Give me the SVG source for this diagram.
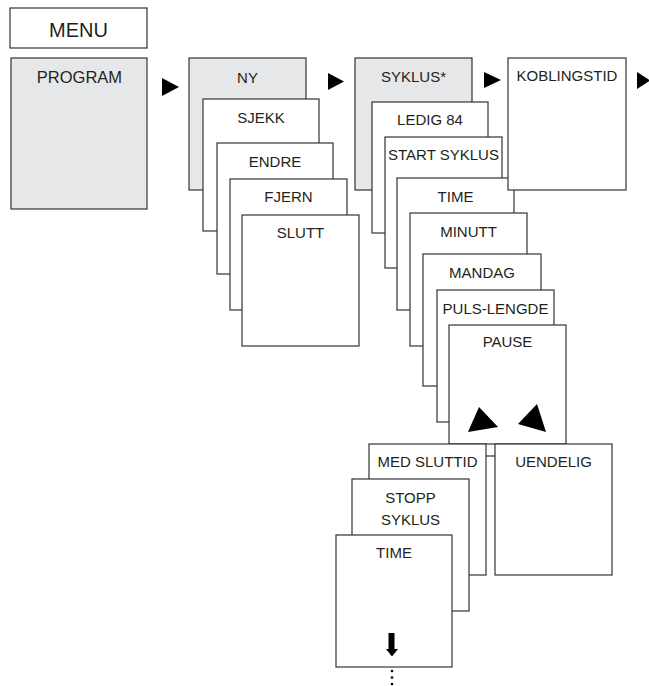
<svg xmlns="http://www.w3.org/2000/svg" width="649" height="686" viewBox="0 0 649 686">
<style>
.b{fill:#ffffff;stroke:#333333;stroke-width:1.2}
.g{fill:#e6e7e8;stroke:#333333;stroke-width:1.2}
.t{font-family:"Liberation Sans",Arial,sans-serif;font-size:15px;fill:#231f20;text-anchor:middle}
.a{fill:#000000}
.l{stroke:#333333;stroke-width:1.2;fill:none}
</style>
<rect width="649" height="686" fill="#ffffff"/>
<g id="menu"><rect class="b" x="10" y="8" width="137" height="40"/><text class="t" x="78.5" y="37" style="font-size:20px">MENU</text></g>
<g id="program"><rect class="g" x="11" y="58" width="136" height="151"/><text class="t" x="79.5" y="83" style="font-size:16.5px">PROGRAM</text></g>
<g id="ny"><rect class="g" x="189" y="58" width="117" height="132"/><text class="t" x="247.5" y="83">NY</text></g>
<g id="sjekk"><rect class="b" x="203" y="99" width="116" height="132"/><text class="t" x="261" y="123">SJEKK</text></g>
<g id="endre"><rect class="b" x="217" y="143" width="116" height="131"/><text class="t" x="275" y="167">ENDRE</text></g>
<g id="fjern"><rect class="b" x="230" y="179" width="117" height="131"/><text class="t" x="288.5" y="202">FJERN</text></g>
<g id="slutt"><rect class="b" x="242" y="215" width="117" height="131"/><text class="t" x="300.5" y="238">SLUTT</text></g>
<g id="syklus"><rect class="g" x="355" y="58" width="117" height="132"/><text class="t" x="413.5" y="82">SYKLUS*</text></g>
<g id="ledig84"><rect class="b" x="372" y="102" width="116" height="131"/><text class="t" x="430" y="125">LEDIG 84</text></g>
<g id="startsyklus"><rect class="b" x="385" y="137" width="117" height="131"/><text class="t" x="443.5" y="160">START SYKLUS</text></g>
<g id="time1"><rect class="b" x="397" y="178" width="117" height="132"/><text class="t" x="455.5" y="202">TIME</text></g>
<g id="minutt"><rect class="b" x="410" y="213" width="117" height="133"/><text class="t" x="468.5" y="237">MINUTT</text></g>
<g id="mandag"><rect class="b" x="423" y="254" width="118" height="132"/><text class="t" x="482" y="278">MANDAG</text></g>
<g id="pulslengde"><rect class="b" x="437" y="290" width="117" height="132"/><text class="t" x="495.5" y="314">PULS-LENGDE</text></g>
<g id="pause"><rect class="b" x="449" y="325" width="117" height="119"/><text class="t" x="507.5" y="347">PAUSE</text></g>
<g id="koblingstid"><rect class="b" x="508" y="58" width="118" height="132"/><text class="t" x="567" y="81">KOBLINGSTID</text></g>
<g id="medsluttid"><rect class="b" x="369" y="444" width="117" height="131"/><text class="t" x="427.5" y="467">MED SLUTTID</text></g>
<g id="uendelig"><rect class="b" x="495" y="444" width="117" height="131"/><text class="t" x="553.5" y="467">UENDELIG</text></g>
<g id="stoppsyklus"><rect class="b" x="352" y="479" width="117" height="132"/><text class="t" x="410.5" y="503">STOPP</text><text class="t" x="410.5" y="525">SYKLUS</text></g>
<g id="time2"><rect class="b" x="336" y="535" width="116" height="132"/><text class="t" x="394" y="558">TIME</text></g>
<g id="connectors">
<polygon class="a" points="162,78 162,96 179,87"/>
<polygon class="a" points="328,73 328,90 344,81.5"/>
<polygon class="a" points="484,72 484,88 501,80"/>
<polygon class="a" points="637,72 637,89 650,80.5"/>
<polygon class="a" points="479,407 468,432 498,427"/>
<polygon class="a" points="537,404 518,424 546,432"/>
<line class="l" x1="486" y1="456" x2="495" y2="456"/>
<polygon class="a" points="388.5,633 394.5,633 394.5,649 398,649 392,656.5 386,649 388.5,649"/>
<circle class="a" cx="392" cy="671" r="1.3"/>
<circle class="a" cx="392" cy="677.5" r="1.3"/>
<circle class="a" cx="392" cy="684" r="1.3"/>
</g>
</svg>
